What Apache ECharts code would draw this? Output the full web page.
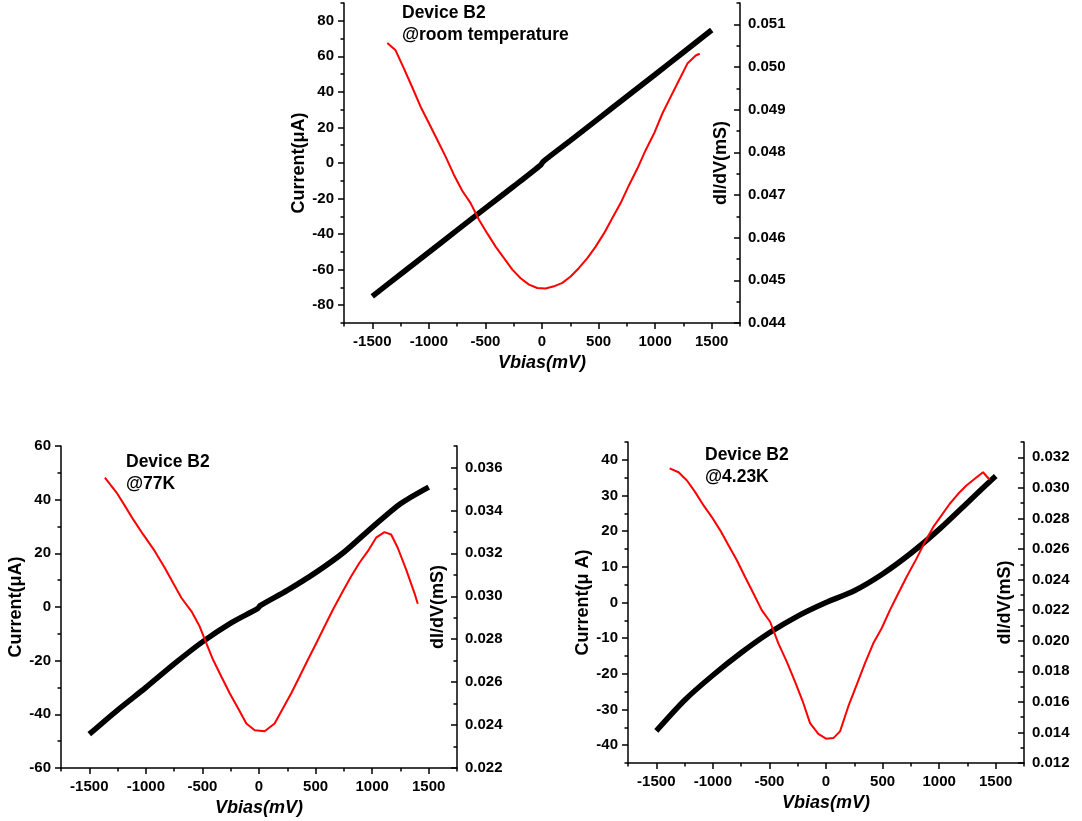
<!DOCTYPE html>
<html>
<head>
<meta charset="utf-8">
<script src="https://cdn.jsdelivr.net/npm/echarts@6/dist/echarts.min.js"></script>
<style>
  html, body { margin: 0; padding: 0; background: #fff; }
  #main { width: 1082px; height: 821px; }
</style>
</head>
<body>
<div id="main"></div>
<script>
// tick values
var xMajor = [-1500, -1000, -500, 0, 500, 1000, 1500];
var xMinor = [-1750, -1250, -750, -250, 250, 750, 1250, 1750];

var yLeftMajor1 = [-80, -60, -40, -20, 0, 20, 40, 60, 80];
var yLeftMinor1 = [-90, -70, -50, -30, -10, 10, 30, 50, 70, 90];
var yRightMajor1 = [0.044, 0.045, 0.046, 0.047, 0.048, 0.049, 0.050, 0.051];
var yRightMinor1 = [0.0445, 0.0455, 0.0465, 0.0475, 0.0485, 0.0495, 0.0505, 0.0515];

var yLeftMajor2 = [-60, -40, -20, 0, 20, 40, 60];
var yLeftMinor2 = [-50, -30, -10, 10, 30, 50];
var yRightMajor2 = [0.022, 0.024, 0.026, 0.028, 0.030, 0.032, 0.034, 0.036];
var yRightMinor2 = [0.023, 0.025, 0.027, 0.029, 0.031, 0.033, 0.035, 0.037];

var yLeftMajor3 = [-40, -30, -20, -10, 0, 10, 20, 30, 40];
var yLeftMinor3 = [-45, -35, -25, -15, -5, 5, 15, 25, 35, 45];
var yRightMajor3 = [0.012, 0.014, 0.016, 0.018, 0.020, 0.022, 0.024, 0.026, 0.028, 0.030, 0.032];
var yRightMinor3 = [0.013, 0.015, 0.017, 0.019, 0.021, 0.023, 0.025, 0.027, 0.029, 0.031, 0.033];

// room temperature
var ivV1 = [-1500, -1250, -1000, -750, -500, -250, -10, 10, 250, 500, 750, 1000, 1250, 1500];
var ivI1 = [-75.0, -62.6, -50.2, -37.8, -25.4, -13.1, -1.0, 0.8, 12.6, 25.0, 37.4, 49.8, 62.3, 74.8];
var dV1 = [-1367, -1294, -1220, -1146, -1073, -999, -925, -852, -778, -705, -631, -557, -484, -410, -336, -262, -189, -115, -41, 32, 106, 180, 253, 327, 401, 474, 548, 622, 695, 769, 843, 916, 990, 1064, 1137, 1211, 1285, 1359, 1394];
var dG1 = [0.05056, 0.05039, 0.04996, 0.04952, 0.04907, 0.04868, 0.04829, 0.04790, 0.04747, 0.04710, 0.04681, 0.04642, 0.04610, 0.04579, 0.04552, 0.04525, 0.04505, 0.04490, 0.04482, 0.04481, 0.04486, 0.04494, 0.04509, 0.04529, 0.04552, 0.04579, 0.04610, 0.04646, 0.04681, 0.04723, 0.04762, 0.04805, 0.04844, 0.04891, 0.04930, 0.04969, 0.05008, 0.05027, 0.05031];

// 77K
var ivV2 = [-1500, -1250, -1000, -750, -500, -250, -10, 10, 250, 500, 750, 1000, 1250, 1500];
var ivI2 = [-47.4, -38.4, -30.0, -21.2, -13.0, -6.0, -0.5, 0.5, 6.2, 12.8, 20.4, 29.7, 38.5, 44.7];
var dV2 = [-1362, -1259, -1185, -1112, -1024, -921, -832, -759, -685, -597, -524, -465, -406, -332, -259, -185, -112, -38, 50, 138, 212, 285, 359, 432, 506, 579, 653, 741, 815, 888, 962, 1035, 1109, 1168, 1226, 1300, 1374, 1403];
var dG2 = [0.03553, 0.03483, 0.03421, 0.03358, 0.03288, 0.03210, 0.03132, 0.03062, 0.02992, 0.02930, 0.02859, 0.02781, 0.02704, 0.02625, 0.02548, 0.02478, 0.02407, 0.02376, 0.02371, 0.02407, 0.02478, 0.02548, 0.02626, 0.02704, 0.02781, 0.02859, 0.02937, 0.03023, 0.03093, 0.03156, 0.03210, 0.03273, 0.03299, 0.03288, 0.03226, 0.03125, 0.03015, 0.02965];

// 4.23K
var ivV3 = [-1500, -1250, -1000, -750, -500, -250, 0, 250, 500, 750, 1000, 1250, 1500];
var ivI3 = [-36.0, -27.4, -20.4, -14.1, -8.5, -3.8, 0.0, 3.3, 8.0, 13.8, 20.5, 28.0, 35.5];
var dV3 = [-1382, -1303, -1229, -1156, -1082, -1009, -935, -862, -788, -715, -641, -568, -494, -421, -347, -274, -200, -141, -68, 0, 65, 124, 197, 271, 344, 418, 491, 565, 638, 712, 800, 874, 947, 1021, 1094, 1168, 1241, 1315, 1388, 1447];
var dG3 = [0.03128, 0.03102, 0.03048, 0.02972, 0.02885, 0.02809, 0.02722, 0.02624, 0.02526, 0.02417, 0.02309, 0.02200, 0.02124, 0.01983, 0.01863, 0.01733, 0.01591, 0.01461, 0.01391, 0.01359, 0.01363, 0.01407, 0.01570, 0.01711, 0.01852, 0.01983, 0.02080, 0.02200, 0.02309, 0.02417, 0.02537, 0.02646, 0.02743, 0.02820, 0.02896, 0.02961, 0.03015, 0.03059, 0.03102, 0.03053];

var FONT = "'Liberation Sans', Arial, sans-serif";

function pairs(xs, ys) {
	var out = [];
	for (var i = 0; i < xs.length; i++) out.push([xs[i], ys[i]]);
	return out;
}

var grids = [
	{left: 344, top: 3, width: 396, height: 320},
	{left: 61, top: 446, width: 396, height: 322},
	{left: 628, top: 442, width: 396, height: 321}
];

var panels = [
	{yl: [-90, 90], ylMaj: yLeftMajor1, ylMin: yLeftMinor1, yr: [0.044, 0.0515], yrMaj: yRightMajor1, yrMin: yRightMinor1,
	 iv: pairs(ivV1, ivI1), dd: pairs(dV1, dG1), cur: 'Current(\u03bcA)'},
	{yl: [-60, 60], ylMaj: yLeftMajor2, ylMin: yLeftMinor2, yr: [0.022, 0.037], yrMaj: yRightMajor2, yrMin: yRightMinor2,
	 iv: pairs(ivV2, ivI2), dd: pairs(dV2, dG2), cur: 'Current(\u03bcA)'},
	{yl: [-45, 45], ylMaj: yLeftMajor3, ylMin: yLeftMinor3, yr: [0.012, 0.033], yrMaj: yRightMajor3, yrMin: yRightMinor3,
	 iv: pairs(ivV3, ivI3), dd: pairs(dV3, dG3), cur: 'Current(\u03bc A)'}
];

var lineStyle = {color: '#000', width: 1.5};
var labelStyle = {color: '#000', fontFamily: FONT, fontWeight: 'bold', fontSize: 15};
var nameStyle = {color: '#000', fontFamily: FONT, fontWeight: 'bold', fontSize: 18};

var xAxes = [], yAxes = [], series = [];

panels.forEach(function (p, g) {
	xAxes.push({
		gridIndex: g, type: 'value', position: 'bottom', min: -1750, max: 1750,
		name: 'Vbias(mV)', nameLocation: 'middle', nameGap: 31,
		nameTextStyle: {color: '#000', fontFamily: FONT, fontWeight: 'bold', fontStyle: 'italic', fontSize: 18},
		axisLine: {show: true, onZero: false, lineStyle: lineStyle},
		axisTick: {show: true, length: 6, lineStyle: lineStyle, customValues: xMajor},
		axisLabel: Object.assign({margin: 11, customValues: xMajor,
			formatter: function (v) { return String(v); }}, labelStyle),
		splitLine: {show: false}
	});
	xAxes.push({
		gridIndex: g, type: 'value', position: 'bottom', min: -1750, max: 1750,
		axisLine: {show: false, onZero: false},
		axisTick: {show: true, length: 3.5, lineStyle: lineStyle, customValues: xMinor},
		axisLabel: {show: false},
		splitLine: {show: false}
	});
	yAxes.push({
		gridIndex: g, type: 'value', position: 'left', min: p.yl[0], max: p.yl[1],
		name: p.cur, nameLocation: 'middle', nameGap: 35, nameRotate: 90,
		nameTextStyle: nameStyle,
		axisLine: {show: true, onZero: false, lineStyle: lineStyle},
		axisTick: {show: true, length: 6, lineStyle: lineStyle, customValues: p.ylMaj},
		axisLabel: Object.assign({margin: 10, customValues: p.ylMaj}, labelStyle),
		splitLine: {show: false}
	});
	yAxes.push({
		gridIndex: g, type: 'value', position: 'left', min: p.yl[0], max: p.yl[1],
		axisLine: {show: false, onZero: false},
		axisTick: {show: true, length: 3.5, lineStyle: lineStyle, customValues: p.ylMin},
		axisLabel: {show: false},
		splitLine: {show: false}
	});
	yAxes.push({
		gridIndex: g, type: 'value', position: 'right', min: p.yr[0], max: p.yr[1],
		name: 'dI/dV(mS)', nameLocation: 'middle', nameGap: -28, nameRotate: 90,
		nameTextStyle: nameStyle,
		axisLine: {show: true, onZero: false, lineStyle: lineStyle},
		axisTick: {show: true, inside: true, length: 6, lineStyle: lineStyle, customValues: p.yrMaj},
		axisLabel: Object.assign({margin: 8, customValues: p.yrMaj,
			formatter: function (v) { return v.toFixed(3); }}, labelStyle),
		splitLine: {show: false}
	});
	yAxes.push({
		gridIndex: g, type: 'value', position: 'right', min: p.yr[0], max: p.yr[1],
		axisLine: {show: false, onZero: false},
		axisTick: {show: true, inside: true, length: 3.5, lineStyle: lineStyle, customValues: p.yrMin},
		axisLabel: {show: false},
		splitLine: {show: false}
	});

	series.push({
		type: 'line', xAxisIndex: 2 * g, yAxisIndex: 4 * g,
		data: p.iv, symbol: 'none', smooth: 0.25,
		lineStyle: {color: '#000', width: 5.5}, z: 3
	});
	series.push({
		type: 'line', xAxisIndex: 2 * g, yAxisIndex: 4 * g + 2,
		data: p.dd, symbol: 'none',
		lineStyle: {color: '#ff0000', width: 2}, z: 4
	});
});

function note(left, top, text) {
	return {
		type: 'text', left: left, top: top,
		style: {text: text, fill: '#000', fontFamily: FONT, fontWeight: 'bold', fontSize: 17.5, lineHeight: 22}
	};
}

var myChart = echarts.init(document.getElementById('main'), null, {renderer: 'canvas'});
myChart.setOption({
	animation: false,
	backgroundColor: '#fff',
	grid: grids,
	xAxis: xAxes,
	yAxis: yAxes,
	series: series,
	graphic: [
		note(402, 2, 'Device B2\n@room temperature'),
		note(126, 451, 'Device B2\n@77K'),
		note(705, 444, 'Device B2\n@4.23K')
	]
});
</script>
</body>
</html>
